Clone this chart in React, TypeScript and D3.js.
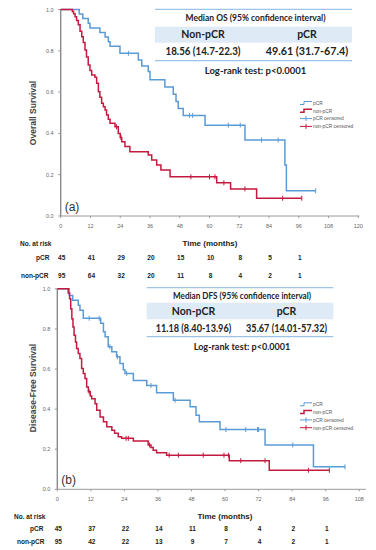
import React from 'react';
import * as d3 from 'd3';

type Step = [number, number];

const BLUE = '#5b9bd5';
const RED = '#c41a3f';
const LINE_BLUE = '#9dc3e6';
const BAND = '#deebf7';

// overall survival
const osPcrSteps: Step[] = [
  [0, 1.0], [7.5, 0.978], [8.9, 0.956], [11.1, 0.933], [11.8, 0.911], [15.8, 0.889],
  [17.9, 0.867], [19.2, 0.844], [19.9, 0.822], [23.9, 0.788], [31.3, 0.755], [32.7, 0.726],
  [35.3, 0.7], [36, 0.66], [42, 0.625], [45.4, 0.59], [46.5, 0.555], [47.4, 0.52],
  [49.4, 0.487], [58.2, 0.44], [74.3, 0.368], [90.4, 0.247], [91, 0.122],
];
const osPcrEnd = 102.8;
const osPcrCensored = [27.3, 51.9, 53.2, 67.6, 72.4, 81, 87.7, 102.8];

const osNonSteps: Step[] = [
  [0, 1.0], [4.7, 0.99], [5.2, 0.979], [5.8, 0.965], [6.4, 0.947], [7.1, 0.926], [7.8, 0.895],
  [8.5, 0.868], [9.1, 0.84], [9.8, 0.804], [10.4, 0.77], [11.1, 0.731], [11.8, 0.705],
  [12.5, 0.683], [13.8, 0.672], [14.5, 0.643], [15.2, 0.602], [15.8, 0.575], [16.5, 0.546],
  [17.2, 0.529], [17.9, 0.513], [18.5, 0.489], [19.2, 0.468], [19.9, 0.449], [21.9, 0.432],
  [23.2, 0.4], [24, 0.38], [24.6, 0.36], [25.9, 0.336], [27.9, 0.311], [35.3, 0.295],
  [36.7, 0.271], [38.7, 0.247], [40.4, 0.223], [44.1, 0.19], [62.9, 0.161], [68.5, 0.131],
  [79, 0.086],
];
const osNonEnd = 97.2;
const osNonCensored = [22.5, 24.3, 52.5, 60, 62.2, 65.8, 74.3, 89.5, 97.2];

// disease-free survival, panel (b)
const dfsPcrSteps: Step[] = [
  [0, 1.0], [4.3, 0.966], [5.5, 0.943], [7.5, 0.918], [8.1, 0.893], [9.3, 0.853],
  [15.5, 0.828], [16.5, 0.786], [17.1, 0.761], [18.2, 0.711], [19.5, 0.686], [21.2, 0.661],
  [22.4, 0.628], [23.6, 0.596], [24.2, 0.578], [27.2, 0.543], [32, 0.518], [35.5, 0.482],
  [41.5, 0.444], [47.5, 0.412], [49.6, 0.369], [50.8, 0.337], [58.2, 0.298], [74.3, 0.221],
  [91.6, 0.112],
];
const dfsPcrEnd = 102.9;
const dfsPcrCensored = [11.4, 15, 18.8, 21.5, 24.8, 33.5, 42.1, 60.3, 67.4, 71.6, 72, 84.2, 102.9];

const dfsNonSteps: Step[] = [
  [0, 1.0], [3.9, 0.979], [4.4, 0.951], [4.8, 0.9], [5.2, 0.851], [5.6, 0.81], [6, 0.768],
  [6.5, 0.735], [6.9, 0.702], [7.5, 0.677], [8.1, 0.652], [8.7, 0.602], [9.3, 0.577],
  [9.9, 0.552], [10.5, 0.51], [11.1, 0.486], [11.8, 0.465], [12.3, 0.452], [13.5, 0.427],
  [14.1, 0.394], [15.3, 0.361], [16.5, 0.337], [17.7, 0.312], [19.5, 0.295], [20.5, 0.279],
  [21.8, 0.262], [23, 0.254], [27.2, 0.241], [32.5, 0.221], [33.5, 0.208], [34.3, 0.195],
  [35.5, 0.182], [39.1, 0.17], [61.5, 0.143], [75.8, 0.095],
];
const dfsNonEnd = 97.3;
const dfsNonCensored = [11.4, 24.6, 25.4, 33, 40, 43.3, 52.2, 59.6, 61.2, 65.6, 74.3, 89.8, 97.3];

const survTicks = [0, 0.2, 0.4, 0.6, 0.8, 1.0];
const osTimeTicks = [0, 12, 24, 36, 48, 60, 72, 84, 96, 108, 120];
const dfsTimeTicks = [0, 12, 24, 36, 48, 60, 72, 84, 96, 108];
const riskTimes = [0, 12, 24, 36, 48, 60, 72, 84, 96];

const osRiskPcr = [45, 41, 29, 20, 15, 10, 8, 5, 1];
const osRiskNon = [95, 64, 32, 20, 11, 8, 4, 2, 1];
const dfsRiskPcr = [45, 37, 22, 14, 11, 8, 4, 2, 1];
const dfsRiskNon = [95, 42, 22, 13, 9, 7, 4, 2, 1];

const legendLabels = ['pCR', 'non-pCR', 'pCR censored', 'non-pCR censored'];

const osTable = {
  header: 'Median OS (95% confidence interval)',
  groups: ['Non-pCR', 'pCR'],
  values: ['18.56 (14.7-22.3)', '49.61 (31.7-67.4)'],
  test: 'Log-rank test: p<0.0001',
};
const dfsTable = {
  header: 'Median DFS (95% confidence interval)',
  groups: ['Non-pCR', 'pCR'],
  values: ['11.18 (8.40-13.96)', '35.67 (14.01-57.32)'],
  test: 'Log-rank test: p<0.0001',
};

const survAt = (steps: Step[], t: number) => {
  let s = steps[0][1];
  for (const [ti, si] of steps) if (ti <= t) s = si;
  return s;
};

type PanelProps = {
  xRange: [number, number];
  xMax: number;
  yRange: [number, number];
  timeTicks: number[];
  pcr: Step[]; pcrEnd: number; pcrCens: number[];
  non: Step[]; nonEnd: number; nonCens: number[];
  yLabel: string; yLabelY: number;
  tag: string;
  table: typeof osTable;
  tb: { x0: number; x1: number; top: number; band: [number, number]; bottom: number; c1: number; c2: number; widths: number[] };
  legendY: number;
  risk: { pcr: number[]; non: number[]; labelY: number; rowY: [number, number]; pcrX: number; nonX: number; noX: number; timeX: number };
};

const Curve: React.FC<{ steps: Step[]; end: number; cens: number[]; color: string; x: any; y: any }> = ({ steps, end, cens, color, x, y }) => {
  const pts: Step[] = [...steps, [end, steps[steps.length - 1][1]]];
  const line = d3.line<Step>().x(d => x(d[0])).y(d => y(d[1])).curve(d3.curveStepAfter);
  return (
    <g>
      <path d={line(pts) || ''} fill="none" stroke={color} strokeWidth={1.5} />
      {cens.map((t, i) => (
        <line key={i} x1={x(t)} x2={x(t)} y1={y(survAt(steps, t)) - 2.5} y2={y(survAt(steps, t)) + 2.5} stroke={color} strokeWidth={1} />
      ))}
    </g>
  );
};

const Panel: React.FC<PanelProps> = p => {
  const x = d3.scaleLinear().domain([0, p.xMax]).range(p.xRange);
  const y = d3.scaleLinear().domain([0, 1]).range(p.yRange);
  const [x0, x1] = p.xRange;
  const [y0, y1] = p.yRange;
  const t = p.tb;
  const sans = 'Liberation Sans, Arial, sans-serif';
  const cal = 'Lato, sans-serif';
  return (
    <g>
      {/* axes */}
      <line x1={x0} x2={x1 + 1} y1={y0} y2={y0} stroke="#9a9a9a" strokeWidth={1} />
      <line x1={x0} x2={x0} y1={y0} y2={y1} stroke="#8a8a8a" strokeWidth={1.4} />
      {p.timeTicks.map(v => (
        <g key={v}>
          <line x1={x(v)} x2={x(v)} y1={y0} y2={y0 + 2} stroke="#9a9a9a" />
          <text x={x(v)} y={y0 + 12} fontSize={5.5} fill="#666" textAnchor="middle" fontFamily={sans}>{v}</text>
        </g>
      ))}
      {survTicks.map(v => (
        <g key={v}>
          <line x1={x0 - 2.5} x2={x0} y1={y(v)} y2={y(v)} stroke="#9a9a9a" />
          <text x={x0 - 7} y={y(v) + 2} fontSize={5.5} fill="#666" textAnchor="end" fontFamily={sans}>{v.toFixed(1)}</text>
        </g>
      ))}
      <text transform={`translate(36,${p.yLabelY}) rotate(-90)`} textAnchor="middle" fontSize={8.5} fontWeight="bold" fill="#444" fontFamily={sans}>{p.yLabel}</text>
      <text x={x0 + 4} y={y0 - 5} fontSize={12} fill="#333" fontFamily={sans}>{p.tag}</text>

      <Curve steps={p.pcr} end={p.pcrEnd} cens={p.pcrCens} color={BLUE} x={x} y={y} />
      <Curve steps={p.non} end={p.nonEnd} cens={p.nonCens} color={RED} x={x} y={y} />

      {/* legend */}
      {legendLabels.map((l, i) => {
        const ly = p.legendY + i * 7.8;
        const c = i % 2 === 0 ? BLUE : RED;
        return (
          <g key={l}>
            {i < 2 ? (
              <path d={`M300,${ly + 1.5}H304V${ly - 1.5}H312`} fill="none" stroke={c} strokeWidth={i === 1 ? 1.5 : 1} />
            ) : (
              <g>
                <line x1={300} x2={312} y1={ly} y2={ly} stroke={c} strokeWidth={1} />
                <line x1={306} x2={306} y1={ly - 2.5} y2={ly + 2.5} stroke={c} strokeWidth={1} />
              </g>
            )}
            <text x={313} y={ly + 1.8} fontSize={4.8} fill="#555" fontFamily={sans}>{l}</text>
          </g>
        );
      })}

      {/* median table */}
      <line x1={t.x0} x2={t.x1} y1={t.top} y2={t.top} stroke={LINE_BLUE} strokeWidth={1.2} />
      <rect x={t.x0} y={t.band[0]} width={t.x1 - t.x0} height={t.band[1] - t.band[0]} fill={BAND} />
      <line x1={t.x0} x2={t.x1} y1={t.bottom} y2={t.bottom} stroke={LINE_BLUE} strokeWidth={1.2} />
      <text x={(t.x0 + t.x1) / 2 + 2} y={t.top + 11.5} textAnchor="middle" fontSize={8.5} fontWeight="bold" fill="#222" fontFamily={cal} textLength={t.widths[0]} lengthAdjust="spacingAndGlyphs">{p.table.header}</text>
      <text x={t.c1} y={(t.band[0] + t.band[1]) / 2 + 3.6} textAnchor="middle" fontSize={10.5} fontWeight="bold" fill="#222" fontFamily={cal}>{p.table.groups[0]}</text>
      <text x={t.c2} y={(t.band[0] + t.band[1]) / 2 + 3.6} textAnchor="middle" fontSize={10.5} fontWeight="bold" fill="#222" fontFamily={cal}>{p.table.groups[1]}</text>
      <text x={t.c1} y={(t.band[1] + t.bottom) / 2 + 3.6} textAnchor="middle" fontSize={10.5} fontWeight="bold" fill="#222" fontFamily={cal} textLength={t.widths[1]} lengthAdjust="spacingAndGlyphs">{p.table.values[0]}</text>
      <text x={t.c2} y={(t.band[1] + t.bottom) / 2 + 3.6} textAnchor="middle" fontSize={10.5} fontWeight="bold" fill="#222" fontFamily={cal} textLength={t.widths[2]} lengthAdjust="spacingAndGlyphs">{p.table.values[1]}</text>
      <text x={(t.x0 + t.x1) / 2 + 2} y={t.bottom + 13.5} textAnchor="middle" fontSize={10} fontWeight="bold" fill="#222" fontFamily={cal} textLength={t.widths[3]} lengthAdjust="spacingAndGlyphs">{p.table.test}</text>

      {/* numbers at risk */}
      <text x={p.risk.noX} y={p.risk.labelY} fontSize={6.5} fontWeight="bold" fill="#222" fontFamily={sans}>No. at risk</text>
      <text x={p.risk.timeX} y={p.risk.labelY} fontSize={8} fontWeight="bold" fill="#222" textAnchor="middle" fontFamily={sans}>Time (months)</text>
      <text x={p.risk.pcrX} y={p.risk.rowY[0]} fontSize={6.5} fontWeight="bold" fill="#222" fontFamily={sans}>pCR</text>
      <text x={p.risk.nonX} y={p.risk.rowY[1]} fontSize={6.5} fontWeight="bold" fill="#222" fontFamily={sans}>non-pCR</text>
      {riskTimes.map((tt, i) => (
        <g key={tt}>
          <text x={x(tt) + 1} y={p.risk.rowY[0]} fontSize={6.5} fontWeight="bold" fill="#222" textAnchor="middle" fontFamily={sans}>{p.risk.pcr[i]}</text>
          <text x={x(tt) + 1} y={p.risk.rowY[1]} fontSize={6.5} fontWeight="bold" fill="#222" textAnchor="middle" fontFamily={sans}>{p.risk.non[i]}</text>
        </g>
      ))}
    </g>
  );
};

export default function App() {
  return (
    <svg width={376} height={550} style={{ position: 'absolute', left: 0, top: 0, background: '#fff' }}>
      <Panel
        xRange={[60.7, 358.3]} xMax={120} yRange={[216, 9.5]} timeTicks={osTimeTicks}
        pcr={osPcrSteps} pcrEnd={osPcrEnd} pcrCens={osPcrCensored}
        non={osNonSteps} nonEnd={osNonEnd} nonCens={osNonCensored}
        yLabel="Overall Survival" yLabelY={113} tag="(a)" table={osTable}
        tb={{ x0: 155, x1: 352, top: 9.3, band: [26.7, 42.7], bottom: 60.7, c1: 203, c2: 307, widths: [140, 75, 82.5, 101.5] }}
        legendY={103}
        risk={{ pcr: osRiskPcr, non: osRiskNon, labelY: 246, rowY: [260.3, 277.5], pcrX: 36, nonX: 21, noX: 20, timeX: 210 }}
      />
      <Panel
        xRange={[57.3, 364.9]} xMax={110} yRange={[489.3, 288.8]} timeTicks={dfsTimeTicks}
        pcr={dfsPcrSteps} pcrEnd={dfsPcrEnd} pcrCens={dfsPcrCensored}
        non={dfsNonSteps} nonEnd={dfsNonEnd} nonCens={dfsNonCensored}
        yLabel="Disease-Free Survival" yLabelY={388} tag="(b)" table={dfsTable}
        tb={{ x0: 146.7, x1: 333.3, top: 287.7, band: [302.7, 319.3], bottom: 336.7, c1: 193.5, c2: 286.5, widths: [138, 75.5, 81, 96.5] }}
        legendY={404.3}
        risk={{ pcr: dfsRiskPcr, non: dfsRiskNon, labelY: 518.5, rowY: [530.8, 544.2], pcrX: 30, nonX: 17, noX: 14, timeX: 225 }}
      />
    </svg>
  );
}
